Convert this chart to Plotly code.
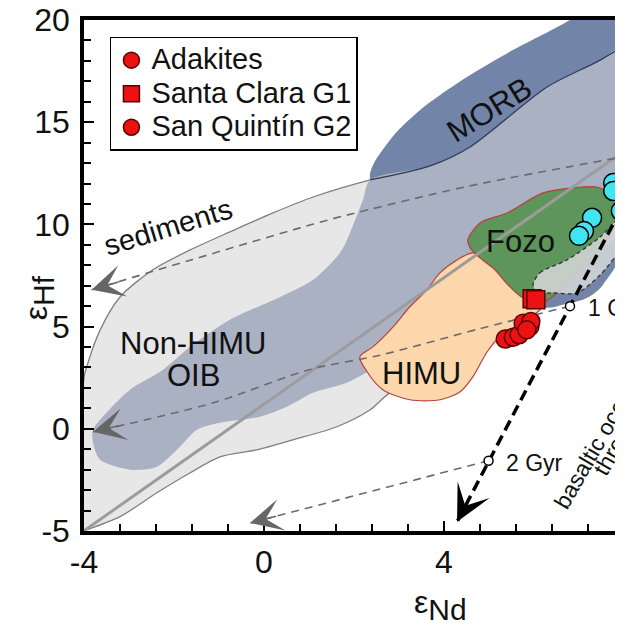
import plotly.graph_objects as go

# axis ticks
X_TICKS = [-4, 0, 4, 8]
X_TICK_TEXT = ["-4", "0", "4", "8"]
Y_TICKS = [-5, 0, 5, 10, 15, 20]
Y_TICK_TEXT = ["-5", "0", "5", "10", "15", "20"]

# outlines of the reference fields (eNd, eHf)
OIB_ENV_X = [-4.0, -3.94, -3.64, -3.2, -2.47, -1.64, -0.76, 0.2, 1.09, 2.36, 3.69, 4.58, 6.29, 7.47, 8.4,
             8.4, 7.98, 7.5, 7.09, 6.2, 4.8, 3.6, 2.8, 2.36, 1.62, 0.64, -0.16, -0.98, -1.64, -2.38, -3.2,
             -3.93, -4.0, -4.0]
OIB_ENV_Y = [2.5, 3.03, 4.84, 6.45, 7.78, 8.75, 9.63, 10.56, 11.34, 12.18, 12.86, 13.79, 16.72, 18.04, 19.2,
             9.0, 9.1, 7.0, 6.35, 5.97, 3.8, 2.3, 1.76, 0.93, 0.1, -0.54, -1.03, -1.37, -2.15, -3.13, -4.3,
             -4.94, -5.0, 2.5]

MORB_X = [2.36, 2.8, 3.47, 4.51, 5.53, 6.3, 6.8, 7.2, 8.6, 8.6, 8.0, 7.8, 7.5, 7.1, 6.7, 6.2, 2.36]
MORB_Y = [12.18, 14.13, 15.6, 17.21, 18.53, 19.4, 20.0, 20.6, 20.6, 10.5, 9.0, 7.9, 7.0, 6.35, 6.1, 5.95, 12.18]

NONHIMU_X = [-3.8, -3.64, -2.98, -2.24, -1.64, -0.76, 0.36, 1.09, 1.69, 1.91, 2.2, 2.36, 3.69, 4.58, 6.29,
             7.47, 8.4, 8.4, 7.8, 6.9, 6.2, 5.5, 4.5, 3.2, 2.58, 2.36, 1.84, 1.09, 0.51, -0.09, -0.98,
             -1.49, -1.87, -2.38, -2.98, -3.64, -3.8, -3.8]
NONHIMU_Y = [-0.05, 0.44, 1.91, 2.89, 4.01, 5.33, 6.45, 7.29, 8.61, 9.58, 11.2, 12.18, 12.86, 13.79, 16.72,
             18.04, 19.3, 9.6, 9.3, 7.6, 6.6, 5.5, 4.3, 3.6, 3.37, 2.89, 2.25, 1.76, 1.08, 0.59, 0.29,
             -0.05, -0.88, -1.86, -2.0, -1.52, -0.68, -0.05]

OIB_TOP_X = [2.36, 3.69, 4.58, 6.29, 7.47, 8.4]
OIB_TOP_Y = [12.18, 12.86, 13.79, 16.72, 18.04, 19.3]

HIMU_X = [2.13, 2.29, 2.64, 3.24, 3.91, 4.36, 4.64, 4.96, 5.24, 5.84, 6.13, 6.31, 5.91, 5.24, 4.64, 4.29,
          3.91, 3.62, 3.24, 2.87, 2.42, 2.13]
HIMU_Y = [3.52, 2.79, 1.91, 1.42, 1.42, 1.81, 2.54, 3.77, 4.5, 5.33, 5.82, 6.41, 7.04, 8.02, 8.61, 8.26,
          7.63, 6.8, 5.97, 4.99, 4.01, 3.52]

FOZO_X = [4.53, 4.8, 5.4, 6.2, 6.87, 7.4, 7.73, 7.87, 7.69, 7.24, 6.69, 6.31, 5.98, 5.69, 5.42, 5.13, 4.8,
          4.58, 4.53]
FOZO_Y = [9.24, 10.07, 10.56, 11.54, 11.78, 11.83, 11.44, 10.71, 9.49, 8.26, 7.04, 6.31, 6.21, 6.5, 7.04,
          7.78, 8.36, 8.85, 9.24]

CRUST_X = [5.98, 6.13, 6.73, 7.47, 7.98, 8.36, 8.36, 7.98, 7.47, 6.96, 6.42, 6.09, 5.98]
CRUST_Y = [7.04, 7.63, 8.26, 9.39, 10.56, 11.44, 9.83, 8.9, 7.53, 6.65, 6.65, 6.65, 7.04]

# terrestrial array
ARRAY_X = [-4.0, 8.2]
ARRAY_Y = [-4.99, 13.9]

# mixing curves
SED_X = [-3.83, -1.64, 0.8, 1.69, 4.5, 7.98, 8.4]
SED_Y = [6.8, 8.25, 9.83, 10.37, 11.85, 13.3, 13.45]
MIX1_X = [6.8, 4.8, 2.58, 1.02, -1.13, -3.8]
MIX1_Y = [6.0, 4.9, 3.6, 2.9, 1.27, -0.15]
MIX2_X = [4.99, -0.31]
MIX2_Y = [-1.56, -4.61]

# crust evolution path
EVOL_X = [8.1, 6.8, 4.99, 4.29]
EVOL_Y = [11.45, 6.0, -1.56, -4.55]
AGE_X = [6.8, 4.99]
AGE_Y = [6.0, -1.56]

# samples
ADAKITE_X = [5.36, 5.54, 5.67]
ADAKITE_Y = [4.39, 4.48, 4.6]
SANTA_CLARA_X = [5.96, 6.04]
SANTA_CLARA_Y = [6.36, 6.31]
SAN_QUINTIN_X = [5.76, 5.91, 5.93, 5.84]
SAN_QUINTIN_Y = [5.17, 5.0, 5.25, 4.84]
MORB_SAMPLE_X = [7.76, 7.76, 7.93, 7.29, 7.11, 7.0]
MORB_SAMPLE_Y = [12.03, 11.64, 10.66, 10.32, 9.68, 9.44]

FONT = "Arial, Liberation Sans, sans-serif"

fig = go.Figure()


def field(xs, ys, fill, line_color=None, width=0, dash="solid", smooth=True):
    fig.add_trace(go.Scatter(
        x=xs, y=ys, mode="lines", fill="toself", fillcolor=fill,
        line=dict(color=line_color or fill, width=width, dash=dash,
                  shape="spline" if smooth else "linear", smoothing=0.8),
        hoverinfo="skip", showlegend=False))


def path(xs, ys, color, width, dash="solid", smooth=False):
    fig.add_trace(go.Scatter(
        x=xs, y=ys, mode="lines",
        line=dict(color=color, width=width, dash=dash,
                  shape="spline" if smooth else "linear", smoothing=0.8),
        hoverinfo="skip", showlegend=False))


def legend_name(text):
    # drawn larger than the legend font so the rows stay tight
    return "<span style='font-size:29px'>%s</span>" % text


field(OIB_ENV_X, OIB_ENV_Y, "#e7e7e7", "#808080", 1.3)
field(MORB_X, MORB_Y, "#7284a8")
field(NONHIMU_X, NONHIMU_Y, "#a9b1c3")
path(OIB_TOP_X, OIB_TOP_Y, "#2f3b58", 1.3, smooth=True)
field(HIMU_X, HIMU_Y, "#fcd7ab", "#b5423f", 1.2)
field(FOZO_X, FOZO_Y, "#5d955b", "#b5423f", 1.2)
field(CRUST_X, CRUST_Y, "rgba(214,216,218,0.85)", "#333333", 1.3, dash="4px,3px")

path(ARRAY_X, ARRAY_Y, "#9c9c9c", 3)
path(SED_X, SED_Y, "#6b6b6b", 1.6, dash="8px,6px", smooth=True)
path(MIX1_X, MIX1_Y, "#6b6b6b", 1.6, dash="8px,6px", smooth=True)
path(MIX2_X, MIX2_Y, "#6b6b6b", 1.6, dash="8px,6px")
path(EVOL_X, EVOL_Y, "#000000", 3.5, dash="11px,6px")

fig.add_trace(go.Scatter(
    x=AGE_X, y=AGE_Y, mode="markers",
    marker=dict(size=9, color="white", line=dict(color="black", width=1.5)),
    hoverinfo="skip", showlegend=False))

red_line = dict(color="#5a0000", width=1.5)
fig.add_trace(go.Scatter(
    x=MORB_SAMPLE_X, y=MORB_SAMPLE_Y, mode="markers", showlegend=False,
    marker=dict(size=19, color="#3fe6f2", line=dict(color="black", width=1.5))))
fig.add_trace(go.Scatter(
    x=ADAKITE_X, y=ADAKITE_Y, mode="markers", name=legend_name("Adakites"),
    marker=dict(size=18, color="#ec1212", line=red_line)))
fig.add_trace(go.Scatter(
    x=SANTA_CLARA_X, y=SANTA_CLARA_Y, mode="markers", name=legend_name("Santa Clara G1"),
    marker=dict(size=18, symbol="square", color="#ec1212", line=red_line)))
fig.add_trace(go.Scatter(
    x=SAN_QUINTIN_X, y=SAN_QUINTIN_Y, mode="markers", name=legend_name("San Quintín G2"),
    marker=dict(size=18, color="#ec1212", line=red_line)))

# arrow heads
for (x, y, ax, ay, color, w, s) in [
    (-3.83, 6.8, -3.2, 7.2, "#666666", 1.5, 3.6),
    (-3.8, -0.15, -3.2, 0.17, "#666666", 1.5, 3.6),
    (-0.31, -4.61, 0.3, -4.26, "#666666", 1.5, 3.6),
    (4.29, -4.55, 4.49, -3.70, "#000000", 3, 2.0),
]:
    fig.add_annotation(x=x, y=y, ax=ax, ay=ay, xref="x", yref="y", axref="x", ayref="y",
                       text="", showarrow=True, arrowhead=3, arrowwidth=w, arrowsize=s,
                       arrowcolor=color, standoff=0)

labels = [
    ("MORB", 5.02, 15.6, -32, 31),
    ("sediments", -2.13, 9.88, -17, 29),
    ("Non-HIMU", -1.57, 4.16, 0, 31),
    ("OIB", -1.56, 2.59, 0, 31),
    ("Fozo", 5.71, 9.14, 0, 31),
    ("HIMU", 3.51, 2.69, 0, 31),
    ("2 Gyr", 6.02, -1.66, 0, 23),
]
for text, x, y, ang, size in labels:
    fig.add_annotation(x=x, y=y, xref="x", yref="y", text=text, showarrow=False,
                       textangle=ang, xanchor="center", yanchor="middle",
                       font=dict(family=FONT, size=size, color="#111111"))

fig.add_annotation(x=7.16, y=5.92, xref="x", yref="y", text="1 Gyr", showarrow=False,
                   xanchor="left", yanchor="middle", font=dict(family=FONT, size=23, color="#111111"))
fig.add_annotation(x=0.975, y=0.22, xref="paper", yref="paper", text="basaltic ocean crust",
                   showarrow=False, textangle=-60, xanchor="center", yanchor="middle",
                   font=dict(family=FONT, size=23, color="#111111"))
fig.add_annotation(x=1.013, y=0.222, xref="paper", yref="paper", text="through time",
                   showarrow=False, textangle=-60, xanchor="center", yanchor="middle",
                   font=dict(family=FONT, size=23, color="#111111"))

# axis titles
fig.add_annotation(x=0.66, y=-0.145, xref="paper", yref="paper", showarrow=False,
                   xanchor="center", yanchor="middle",
                   text="ε<sub><span style='font-size:30px'>Nd</span></sub>",
                   font=dict(family=FONT, size=32, color="#111111"))
fig.add_annotation(x=-0.083, y=0.456, xref="paper", yref="paper", showarrow=False, textangle=-90,
                   xanchor="center", yanchor="middle",
                   text="ε<sub><span style='font-size:30px'>Hf</span></sub>",
                   font=dict(family=FONT, size=32, color="#111111"))

axis_common = dict(showline=True, linecolor="black", linewidth=3.5, showgrid=False, zeroline=False,
                   ticks="inside", ticklen=10, tickwidth=2, tickcolor="black", tickmode="array",
                   automargin=False, ticklabeloverflow="allow",
                   tickfont=dict(family=FONT, size=32, color="#111111"))

fig.update_xaxes(range=[-4, 8.0], tickvals=X_TICKS, ticktext=X_TICK_TEXT, mirror=True,
                 ticklabelstandoff=0,
                 minor=dict(tickmode="linear", tick0=0, dtick=0.8, ticks="inside", ticklen=7,
                            tickwidth=2, tickcolor="black", showgrid=False),
                 **axis_common)
fig.update_yaxes(range=[-5, 20], tickvals=Y_TICKS, ticktext=Y_TICK_TEXT, mirror=False,
                 ticklabelstandoff=4,
                 minor=dict(tickmode="linear", tick0=0, dtick=1, ticks="inside", ticklen=7,
                            tickwidth=2, tickcolor="black", showgrid=False),
                 **axis_common)

# the page body adds an 8px offset, so margins are shifted to land the frame where it belongs
fig.update_layout(
    width=623, height=624,
    margin=dict(l=76, r=7, t=12, b=101, autoexpand=False),
    plot_bgcolor="white", paper_bgcolor="white",
    font=dict(family=FONT),
    legend=dict(x=0.048, y=0.967, xanchor="left", yanchor="top", bgcolor="white",
                bordercolor="black", borderwidth=1.5,
                font=dict(family=FONT, size=23.5, color="#111111"), tracegroupgap=0),
)

fig.write_html("out.html")
